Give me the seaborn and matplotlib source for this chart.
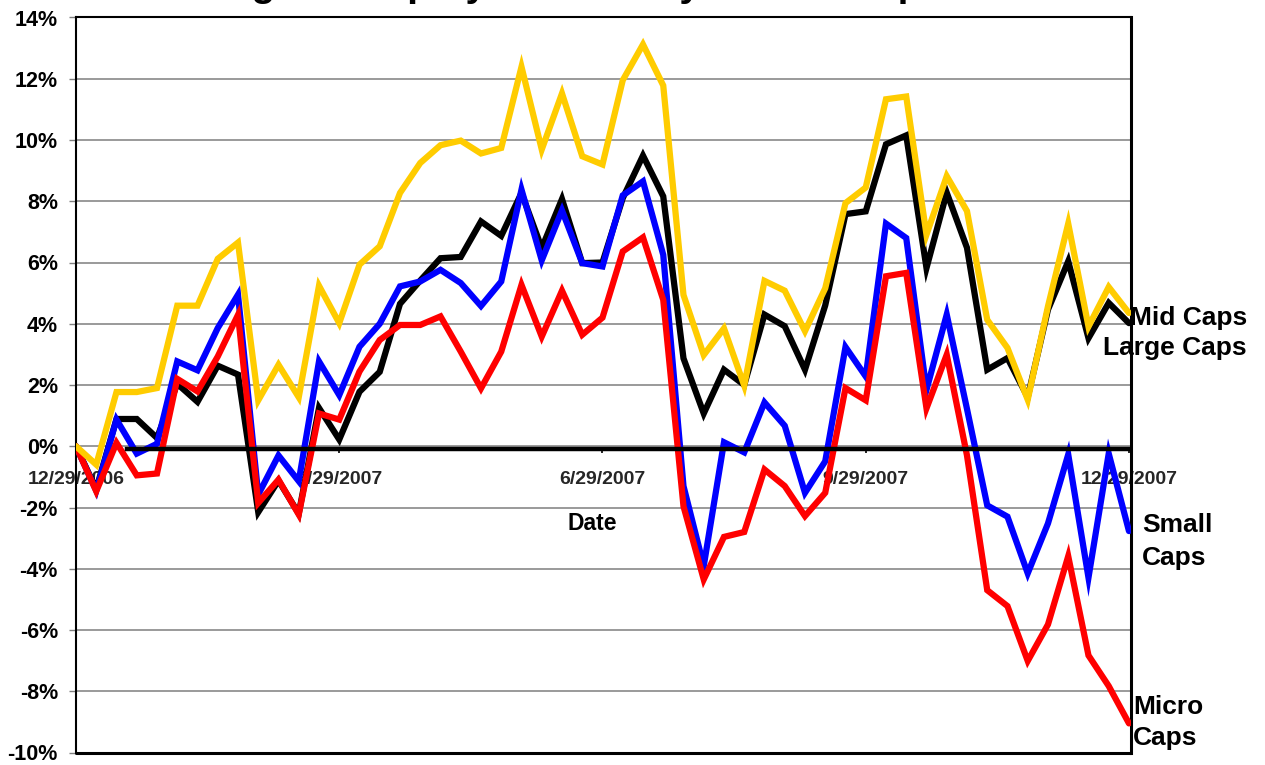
import matplotlib
matplotlib.use("Agg")
import matplotlib.pyplot as plt
import pandas as pd
import seaborn as sns

# Weekly cumulative returns (%) from 12/29/2006 to 12/29/2007
weeks = list(range(53))
tick_weeks = [0, 13, 26, 39, 52]
tick_dates = ["12/29/2006", "3/29/2007", "6/29/2007", "9/29/2007", "12/29/2007"]
y_ticks = [-10, -8, -6, -4, -2, 0, 2, 4, 6, 8, 10, 12, 14]

mid_caps = [0, -0.6, 1.77, 1.77, 1.9, 4.59, 4.59, 6.12, 6.65, 1.5,
            2.66, 1.6, 5.24, 4.02, 5.93, 6.53, 8.27, 9.25, 9.83, 9.98,
            9.56, 9.74, 12.39, 9.69, 11.52, 9.47, 9.2, 11.95, 13.12, 11.78,
            4.94, 2.98, 3.85, 1.98, 5.4, 5.08, 3.76, 5.16, 7.94, 8.45,
            11.33, 11.42, 6.91, 8.82, 7.68, 4.13, 3.21, 1.52, 4.57, 7.27,
            3.91, 5.2, 4.35]
large_caps = [0, -1.4, 0.89, 0.89, 0.27, 2.04, 1.45, 2.63, 2.34, -2.15,
              -1.12, -2.2, 1.25, 0.22, 1.78, 2.43, 4.65, 5.41, 6.14, 6.18,
              7.34, 6.87, 8.27, 6.47, 8.07, 5.98, 6.0, 8.1, 9.49, 8.16,
              2.87, 1.07, 2.5, 2.0, 4.3, 3.92, 2.5, 4.6, 7.58, 7.67,
              9.86, 10.15, 5.82, 8.28, 6.48, 2.5, 2.88, 1.6, 4.46, 6.04,
              3.53, 4.68, 4.02]
small_caps = [0, -1.45, 0.87, -0.24, 0.08, 2.77, 2.48, 3.86, 4.95, -1.58,
              -0.3, -1.14, 2.77, 1.67, 3.25, 4.0, 5.22, 5.38, 5.76, 5.33,
              4.58, 5.38, 8.38, 6.07, 7.7, 5.98, 5.87, 8.19, 8.65, 6.25,
              -1.3, -3.91, 0.13, -0.2, 1.43, 0.67, -1.52, -0.49, 3.24, 2.28,
              7.27, 6.8, 1.84, 4.3, 1.22, -1.93, -2.3, -4.15, -2.52, -0.27,
              -4.29, -0.24, -2.77]
micro_caps = [0, -1.47, 0.11, -0.95, -0.89, 2.2, 1.79, 2.93, 4.29, -1.85,
              -1.09, -2.23, 1.07, 0.87, 2.44, 3.47, 3.96, 3.96, 4.24, 3.09,
              1.89, 3.09, 5.27, 3.58, 5.08, 3.64, 4.2, 6.36, 6.82, 4.78,
              -1.96, -4.35, -2.96, -2.8, -0.76, -1.3, -2.28, -1.52, 1.9, 1.5,
              5.55, 5.66, 1.24, 2.99, -0.3, -4.7, -5.22, -7.01, -5.82, -3.59,
              -6.83, -7.83, -9.05]

series = {
    "Large Caps": large_caps,
    "Small Caps": small_caps,
    "Micro Caps": micro_caps,
    "Mid Caps": mid_caps,
}
colors = {
    "Large Caps": "#000000",
    "Small Caps": "#0000FF",
    "Micro Caps": "#FF0000",
    "Mid Caps": "#FFCC00",
}

df = pd.concat(
    [pd.DataFrame({"week": weeks, "ret": vals, "series": name})
     for name, vals in series.items()],
    ignore_index=True,
)

sns.set_theme(style="white")
plt.rcParams["font.family"] = ["Liberation Sans", "DejaVu Sans"]
plt.rcParams["font.weight"] = "bold"

fig = plt.figure(figsize=(12.65, 7.65), dpi=100)
ax = fig.add_axes([76 / 1265, 12.5 / 765, 1055 / 1265, 735 / 765])

sns.lineplot(data=df, x="week", y="ret", hue="series",
             hue_order=list(series.keys()), palette=colors,
             linewidth=4.5, legend=False, sort=False, estimator=None, ax=ax)
for ln in ax.lines:
    ln.set_zorder(3)
    ln.set_solid_joinstyle("miter")

ax.set_xlim(0, 52.1)
ax.set_ylim(-10, 14)

# horizontal gridlines and the percent scale
ax.set_yticks(y_ticks, [f"{v}%" for v in y_ticks])
ax.yaxis.grid(True, color="#7f7f7f", linewidth=1.1)
ax.xaxis.grid(False)
ax.set_axisbelow(True)
ax.tick_params(axis="y", which="major", left=True, direction="out",
               length=5, width=1, color="#7f7f7f", pad=8,
               labelsize=15.5)

# category axis crossing at zero
ax.set_xticks(tick_weeks, tick_dates)
ax.tick_params(axis="x", which="major", bottom=True, direction="out",
               length=3, width=1.2, color="black", pad=13, labelsize=14)
for lab in ax.get_xticklabels() + ax.get_yticklabels():
    lab.set_fontweight("bold")
    lab.set_color("black")

sp = ax.spines["bottom"]
sp.set_position(("data", -0.08))
sp.set_bounds(2.5, 52)
sp.set_linewidth(3.2)
sp.set_color("black")
sp.set_zorder(4)
for side, lw in (("left", 1.5), ("top", 1.5), ("right", 2.2)):
    ax.spines[side].set_visible(True)
    ax.spines[side].set_color("black")
    ax.spines[side].set_linewidth(lw)
ax.axhline(-10, color="black", linewidth=2.2, zorder=4, clip_on=False)

ax.set_ylabel("")
ax.set_xlabel("Date", fontsize=16.5, fontweight="bold", color="black")
ax.xaxis.set_label_coords(516 / 1055, (752.5 - 524) / 735)
ax.xaxis.label.set_va("center")

# series names at the right edge
W, H = 1265, 765
lab_kw = dict(fontsize=19, fontweight="bold", color="black", va="baseline")
fig.text(1247 / W, 1 - 325 / H, "Mid Caps", ha="right", **lab_kw)
fig.text(1247 / W, 1 - 355 / H, "Large Caps", ha="right", **lab_kw)
fig.text(1142 / W, 1 - 565 / H, "Small\nCaps", ha="left", linespacing=1.45, **lab_kw)
fig.text(1133 / W, 1 - 745 / H, "Micro\nCaps", ha="left", linespacing=1.38, **lab_kw)

# chart title, sitting at the very top edge
fig.text(183 / W, 1 + 4 / H, "Weighted Equity Returns by Market Cap",
         ha="left", va="baseline", fontsize=28, fontweight="bold", color="black")

fig.savefig("out.png", dpi=100)
